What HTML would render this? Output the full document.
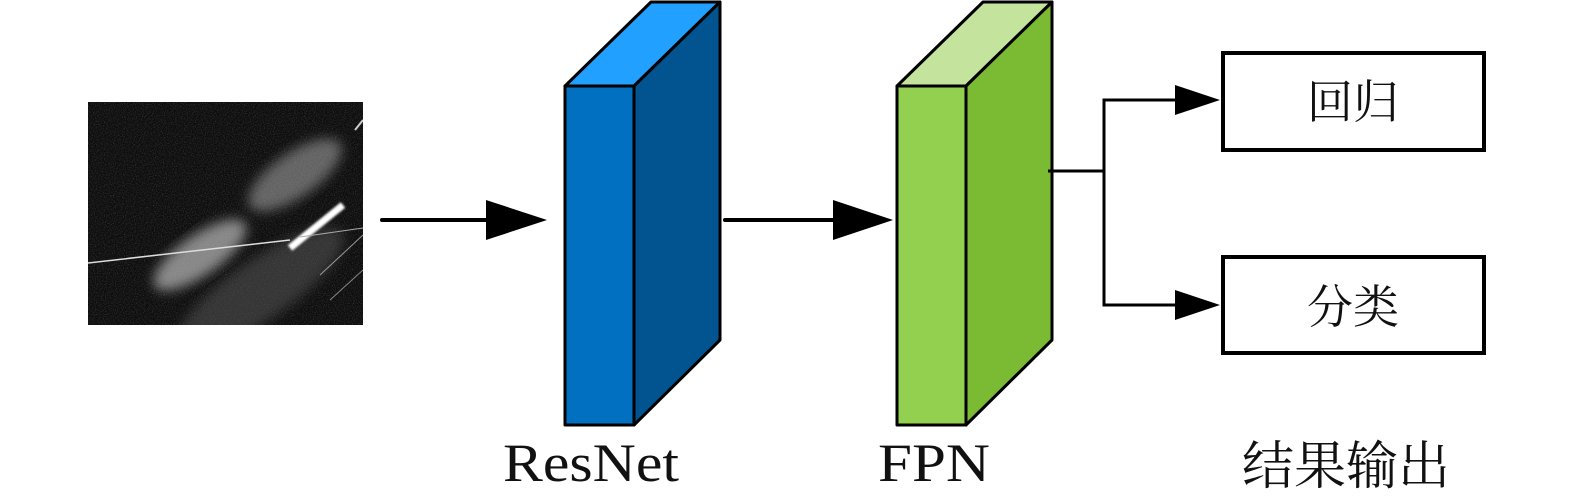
<!DOCTYPE html>
<html><head><meta charset="utf-8"><style>html,body{margin:0;padding:0;background:#fff;width:1575px;height:497px;overflow:hidden}</style></head>
<body>
<svg width="1575" height="497" viewBox="0 0 1575 497" xmlns="http://www.w3.org/2000/svg">
<defs>
<filter id="bl" x="-20%" y="-20%" width="140%" height="140%"><feGaussianBlur stdDeviation="6"/></filter>
<filter id="bl2"><feGaussianBlur stdDeviation="1"/></filter>
<filter id="noise" x="0" y="0" width="100%" height="100%">
<feTurbulence type="fractalNoise" baseFrequency="0.9" numOctaves="2" seed="3" result="t"/>
<feColorMatrix type="matrix" values="0 0 0 0 1  0 0 0 0 1  0 0 0 0 1  1.2 0 0 0 -0.55"/>
</filter>
<clipPath id="cp"><rect x="88" y="102" width="275" height="223"/></clipPath>
</defs>
<rect x="88" y="102" width="275" height="223" fill="#0e0e0e"/>
<g clip-path="url(#cp)">
<rect x="88" y="102" width="275" height="223" filter="url(#noise)" opacity="0.35"/>
<ellipse cx="200" cy="255" rx="55" ry="20" transform="rotate(-35 200 255)" fill="#bbb" opacity="0.7" filter="url(#bl)"/>
<ellipse cx="295" cy="175" rx="55" ry="22" transform="rotate(-35 295 175)" fill="#aaa" opacity="0.55" filter="url(#bl)"/>
<ellipse cx="260" cy="290" rx="100" ry="30" transform="rotate(-35 260 290)" fill="#555" opacity="0.55" filter="url(#bl)"/>
<line x1="88" y1="263" x2="290" y2="240" stroke="#ddd" stroke-width="1.5"/>
<line x1="290" y1="248" x2="343" y2="205" stroke="#fff" stroke-width="7" filter="url(#bl2)"/>
<line x1="300" y1="237" x2="363" y2="228" stroke="#aaa" stroke-width="1"/>
<line x1="320" y1="275" x2="363" y2="235" stroke="#999" stroke-width="1"/>
<line x1="330" y1="300" x2="363" y2="270" stroke="#888" stroke-width="1"/>
<line x1="355" y1="130" x2="363" y2="120" stroke="#ccc" stroke-width="2"/>
</g>
<g stroke="#000" stroke-width="4" stroke-linecap="round"><line x1="382" y1="220" x2="490" y2="220"/><line x1="725" y1="220" x2="835" y2="220"/></g>
<polygon points="486,200 547,220 486,240" fill="#000"/>
<polygon points="833,200 893,220 833,240" fill="#000"/>
<g stroke="#000" stroke-width="3" stroke-linejoin="round">
<polygon points="565,86 651,2 720,2 634,86" fill="#22a0ff"/>
<polygon points="634,86 720,2 720,340 634,425" fill="#01548f"/>
<rect x="565" y="86" width="69" height="339" fill="#0170c1"/>
<polygon points="897,86 983,2 1052,2 966,86" fill="#c4e49e"/>
<polygon points="966,86 1052,2 1052,340 966,425" fill="#7bba33"/>
<rect x="897" y="86" width="69" height="339" fill="#93d050"/>
</g>
<polyline points="1048,171 1104,171" stroke="#000" stroke-width="3" fill="none"/>
<polyline points="1178,100 1104,100 1104,305 1178,305" stroke="#000" stroke-width="3" fill="none"/>
<polygon points="1175,85 1220,100 1175,115" fill="#000"/>
<polygon points="1175,290 1220,305 1175,320" fill="#000"/>
<rect x="1223" y="53" width="261" height="97" fill="#fff" stroke="#000" stroke-width="4"/>
<rect x="1223" y="257" width="261" height="96" fill="#fff" stroke="#000" stroke-width="4"/>
<g font-family="'Noto Serif CJK SC','WenQuanYi Zen Hei',serif" font-size="46" text-anchor="middle" fill="#111">
<text x="1353" y="118">回归</text>
<text x="1353" y="323">分类</text>
<text x="1346" y="484" font-size="52">结果输出</text>
</g>
<g font-family="'Liberation Serif',serif" font-size="54" text-anchor="middle" fill="#111">
<text x="591" y="481" textLength="176" lengthAdjust="spacingAndGlyphs">ResNet</text>
<text x="934" y="481" textLength="112" lengthAdjust="spacingAndGlyphs">FPN</text>
</g>
</svg>
</body></html>
